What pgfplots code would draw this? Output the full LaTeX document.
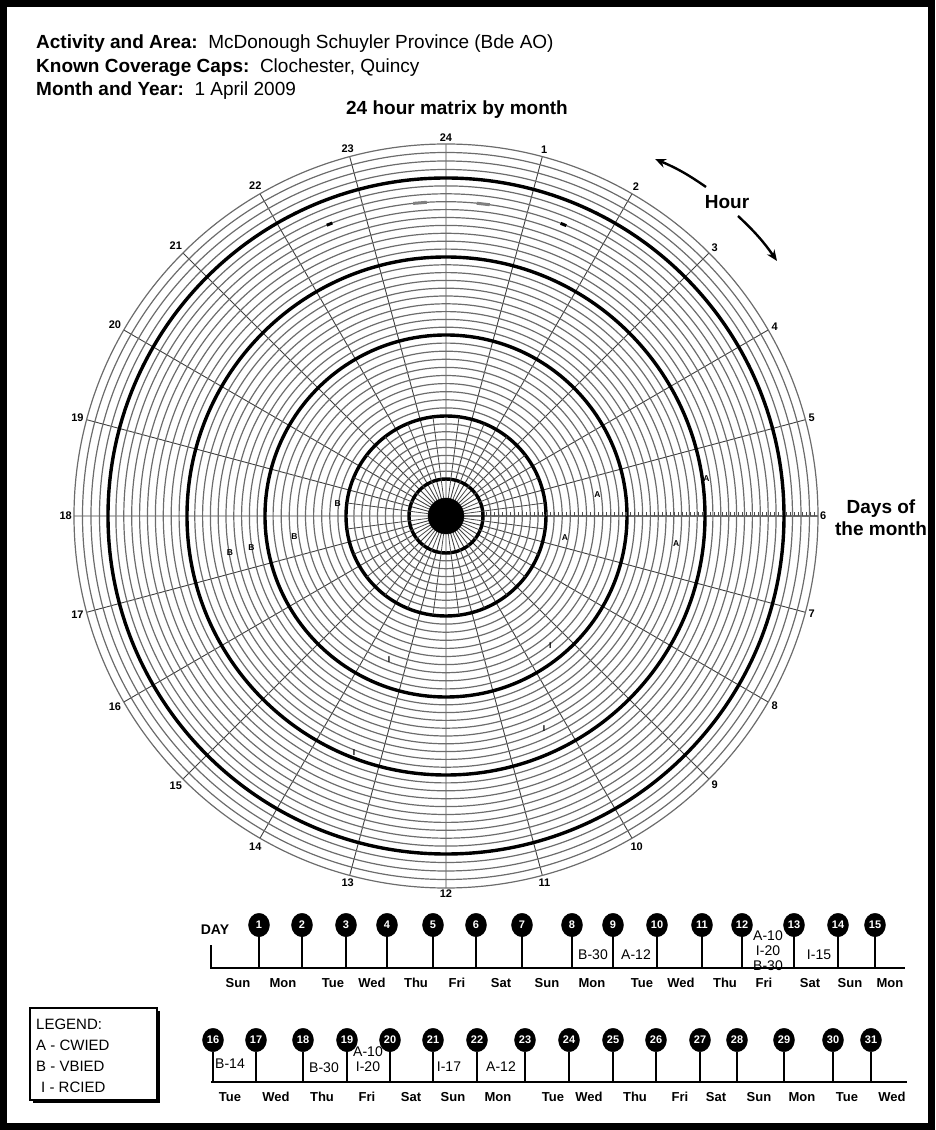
\documentclass[border=0pt]{standalone}
\usepackage{pgfplots}
\pgfplotsset{compat=1.18}
\usepgfplotslibrary{polar}
\usetikzlibrary{arrows.meta}
\usepackage{fontspec}
\setmainfont{Liberation Sans}
\begin{document}
\begin{tikzpicture}
\useasboundingbox (0,0) rectangle (935pt,1130pt);
% ---------- overlay axis in pixel units (calendar) ----------
\begin{axis}[at={(0pt,0pt)}, anchor=south west, width=935pt, height=1130pt,
  scale only axis, xmin=0, xmax=935, ymin=0, ymax=1130, y dir=reverse,
  hide axis, clip=false]
% baselines and stems, row 1
\addplot[black, line width=1.6pt, mark=none, unbounded coords=jump] coordinates {
(211,945) (211,968) (905,968) (nan,nan)
(259,936) (259,968) (nan,nan) (302,936) (302,968) (nan,nan)
(346,936) (346,968) (nan,nan) (387,936) (387,968) (nan,nan)
(433,936) (433,968) (nan,nan) (476,936) (476,968) (nan,nan)
(522,936) (522,968) (nan,nan) (572,936) (572,968) (nan,nan)
(613,936) (613,968) (nan,nan) (657,936) (657,968) (nan,nan)
(702,936) (702,968) (nan,nan) (742,936) (742,968) (nan,nan)
(794,936) (794,968) (nan,nan) (838,936) (838,968) (nan,nan)
(875,936) (875,968)
};
% baselines and stems, row 2
\addplot[black, line width=1.6pt, mark=none, unbounded coords=jump] coordinates {
(211,1082) (907,1082) (nan,nan)
(213,1052) (213,1082) (nan,nan) (256,1052) (256,1082) (nan,nan)
(303,1052) (303,1082) (nan,nan) (347,1048) (347,1082) (nan,nan)
(390,1048) (390,1082) (nan,nan) (433,1052) (433,1082) (nan,nan)
(477,1052) (477,1082) (nan,nan) (525,1052) (525,1082) (nan,nan)
(569,1052) (569,1082) (nan,nan) (613,1052) (613,1082) (nan,nan)
(656,1052) (656,1082) (nan,nan) (700,1052) (700,1082) (nan,nan)
(737,1052) (737,1082) (nan,nan) (784,1052) (784,1082) (nan,nan)
(833,1052) (833,1082) (nan,nan) (871,1052) (871,1082)
};
% day circles
\addplot[only marks, mark=*, mark size=10.5pt, mark options={black, yscale=1.12},
  nodes near coords, point meta=explicit symbolic,
  every node near coord/.append style={anchor=center, text=white, inner sep=0pt,
    font=\bfseries\fontsize{11}{11}\selectfont}]
  table[x=x, y=y, meta=d] {
x y d
259 925 1
302 925 2
346 925 3
387 925 4
433 925 5
476 925 6
522 925 7
572 925 8
613 925 9
657 925 10
702 925 11
742 925 12
794 925 13
838 925 14
875 925 15
213 1040 16
256 1040 17
303 1040 18
347 1040 19
390 1040 20
433 1040 21
477 1040 22
525 1040 23
569 1040 24
613 1040 25
656 1040 26
700 1040 27
737 1040 28
784 1040 29
833 1040 30
871 1040 31
};
\end{axis}
% ---------- polar 24 hour matrix ----------
\begin{polaraxis}[at={(446pt,614pt)}, anchor=center,
  width=744pt, height=744pt, scale only axis,
  ymin=0, ymax=372,
  xtick={0,15,...,345},
  xticklabels={6,5,4,3,2,1,24,23,22,21,20,19,18,17,16,15,14,13,12,11,10,9,8,7},
  xticklabel style={font=\bfseries\fontsize{11}{11}\selectfont, inner sep=2pt},
  ytick={44.875,52.75,60.625,68.5,76.375,84.25,92.125,
         108.1,116.2,124.3,132.4,140.5,148.6,156.7,164.8,172.9,
         188.8,196.6,204.4,212.2,220,227.8,235.6,243.4,251.2,
         266.9,274.8,282.7,290.6,298.5,306.4,314.3,322.2,330.1,
         346.5,355,363.5},
  yticklabels={},
  extra y ticks={37,100,181,259,338},
  extra y tick labels={},
  extra y tick style={grid=major, major grid style={black, line width=3.4pt},
     y grid style={black, line width=3.4pt}},
  grid=major,
  x grid style={black!75, line width=0.9pt},
  y grid style={gray!85!black, line width=1.2pt},
  axis line style={gray!85!black, line width=1.2pt},
  major tick length=0pt,
  clip=false]
\pgfplotsinvokeforeach{7.5,22.5,...,352.5}{
  \draw[black!70, line width=0.8pt] (axis cs:#1,18) -- (axis cs:#1,100);
}
\pgfplotsinvokeforeach{40,44,...,368}{
  \draw[black!70, line width=0.7pt] (axis cs:0,#1) -- ++(0,4pt);
}
% centre disk
\addplot[only marks, mark=*, mark size=18pt, black] coordinates {(0,0)};
% marks on a ring near the top
\addplot[gray, line width=3pt] coordinates {(96,314.3) (93.5,314.3)};
\addplot[gray, line width=3pt] coordinates {(84.4,314.3) (82,314.3)};
\addplot[black, line width=3pt] coordinates {(112.3,314.3) (111.2,314.3)};
\addplot[black, line width=3pt] coordinates {(68.6,314.3) (67.5,314.3)};
% incidents (angle in degrees, radius)
\addplot[only marks, mark=*, mark size=0pt,
  nodes near coords, point meta=explicit symbolic,
  every node near coord/.append style={anchor=center, inner sep=0pt, text=black,
    font=\bfseries\fontsize{8.5}{8.5}\selectfont}]
  table[x=ang, y=r, meta=lab] {
ang r lab
7.9 153 A
8.1 263 A
349.5 121 A
353.1 232 A
173.7 109 B
187.9 153 B
189.1 197 B
189.5 219 B
248.3 154 I
308.9 166 I
294.8 234 I
248.8 254 I
};
\end{polaraxis}
% ---------- texts and frame in pixel coordinates ----------
\begin{scope}[x=1pt, y=-1pt, yshift=1130pt]
\draw[line width=7pt] (3.5,3.5) rectangle (931.5,1126.5);
\begin{scope}[every node/.style={anchor=west, inner sep=0pt, font=\fontsize{19}{22}\selectfont}]
\node at (36,44) {\textbf{Activity and Area:}\ \ McDonough Schuyler Province (Bde AO)};
\node at (36,67.5) {\textbf{Known Coverage Caps:}\ \ Clochester, Quincy};
\node at (36,91) {\textbf{Month and Year:}\ \ 1 April 2009};
\end{scope}
\node[font=\bfseries\fontsize{19}{22}\selectfont] at (457,110) {24 hour matrix by month};
\node[font=\bfseries\fontsize{19}{22}\selectfont] at (727,202) {Hour};
\draw[line width=2.4pt, -{Stealth[length=11pt, width=9pt]}] (706,187) to[bend right=6] (655,159);
\draw[line width=2.4pt, -{Stealth[length=11pt, width=9pt]}] (738,216) to[bend left=6] (777,261);
\node[font=\bfseries\fontsize{19}{22}\selectfont, align=center] at (881,518) {Days of\\the month};
% calendar texts
\node[font=\bfseries\fontsize{14}{14}\selectfont] at (215,930) {DAY};
\foreach \x/\n in {238/Sun,283/Mon,333/Tue,372/Wed,416/Thu,457/Fri,501/Sat,547/Sun,
                   592/Mon,642/Tue,681/Wed,725/Thu,764/Fri,810/Sat,850/Sun,890/Mon}
  \node[font=\bfseries\fontsize{13}{13}\selectfont] at (\x,983) {\n};
\foreach \x/\n in {230/Tue,276/Wed,322/Thu,367/Fri,411/Sat,453/Sun,498/Mon,553/Tue,
                   589/Wed,635/Thu,680/Fri,716/Sat,759/Sun,802/Mon,847/Tue,892/Wed}
  \node[font=\bfseries\fontsize{13}{13}\selectfont] at (\x,1097) {\n};
\begin{scope}[every node/.style={font=\fontsize{14}{14}\selectfont, inner sep=0pt}]
\node at (593,955) {B-30};
\node at (636,955) {A-12};
\node at (768,936) {A-10};
\node at (768,951) {I-20};
\node at (768,966) {B-30};
\node at (819,955) {I-15};
\node at (230,1064) {B-14};
\node at (324,1068) {B-30};
\node at (368,1052) {A-10};
\node at (368,1067) {I-20};
\node at (449,1067) {I-17};
\node at (501,1067) {A-12};
\end{scope}
% legend
\draw[line width=1.4pt] (30,1008) rectangle (157,1100);
\draw[line width=3pt] (33,1101.5) -- (158.5,1101.5) -- (158.5,1011);
\begin{scope}[every node/.style={anchor=west, inner sep=0pt, font=\fontsize{15}{15}\selectfont}]
\node at (36,1024) {LEGEND:};
\node at (36,1045) {A - CWIED};
\node at (36,1066) {B - VBIED};
\node at (41,1087) {I - RCIED};
\end{scope}
\end{scope}
\end{tikzpicture}
\end{document}
